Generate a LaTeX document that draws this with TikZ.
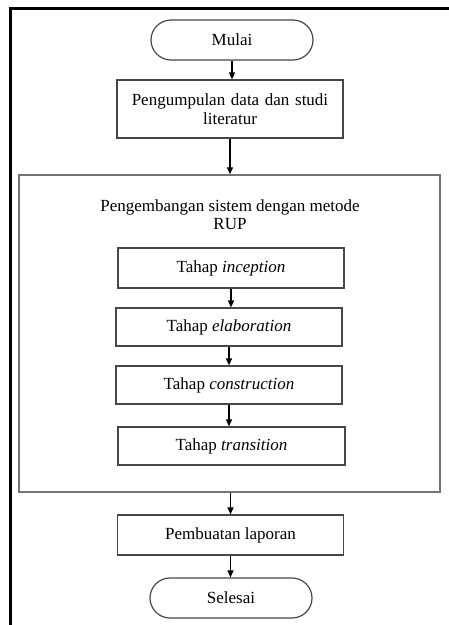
\documentclass[tikz,border=0pt]{standalone}
\usepackage{fontspec}
\setmainfont{Liberation Serif}
\usetikzlibrary{arrows.meta,shapes.misc}
\begin{document}
\begin{tikzpicture}[x=1pt,y=-1pt,
  every node/.style={font=\fontsize{17}{19}\selectfont, text=black, inner sep=0pt},
  procbox/.style={draw=black!72, line width=1.2pt, rectangle, align=center},
  terminal/.style={draw=black!72, line width=1.2pt, rounded rectangle, minimum width=162pt, minimum height=40pt},
  groupbox/.style={draw=black!55, line width=1.5pt, rectangle},
  arr/.style={draw=black, line width=1.3pt, -{Triangle[length=7pt,width=6pt]}}
]
\useasboundingbox (0,0) rectangle (449,625);
% page frame (top and left edges only)
\draw[line width=3pt, black] (10,625) -- (10,8) -- (449,8);

\node[terminal] (mulai) at (232,40) {Mulai};
\node[procbox, minimum width=226pt, minimum height=58pt, text width=222pt] (kumpul) at (230,109)
  {Pengumpulan data dan studi\\literatur};

\node[groupbox, minimum width=421pt, minimum height=317pt] (rup) at (229.5,333.5) {};
\node[align=center] (ruptitle) at (230,215) {Pengembangan sistem dengan metode\\[-1pt]RUP};

\node[procbox, minimum width=226pt, minimum height=40pt] (incep) at (231,268) {Tahap \textit{inception}};
\node[procbox, minimum width=226pt, minimum height=38pt] (elab) at (229,327) {Tahap \textit{elaboration}};
\node[procbox, minimum width=226pt, minimum height=38pt] (constr) at (229,385) {Tahap \textit{construction}};
\node[procbox, minimum width=227pt, minimum height=38pt] (trans) at (231.5,446) {Tahap \textit{transition}};

\node[procbox, minimum width=226pt, minimum height=40pt] (lapor) at (230.5,535) {Pembuatan laporan};
\node[terminal] (selesai) at (231,598) {Selesai};

\draw[arr] (mulai.south) -- (mulai.south |- kumpul.north);
\draw[arr] (kumpul.south) -- (kumpul.south |- rup.north);
\draw[arr] (incep.south) -- (incep.south |- elab.north);
\draw[arr] (elab.south) -- (elab.south |- constr.north);
\draw[arr] (constr.south) -- (constr.south |- trans.north);
\draw[arr] (lapor.south |- rup.south) -- (lapor.north);
\draw[arr] (lapor.south) -- (lapor.south |- selesai.north);
\end{tikzpicture}
\end{document}
